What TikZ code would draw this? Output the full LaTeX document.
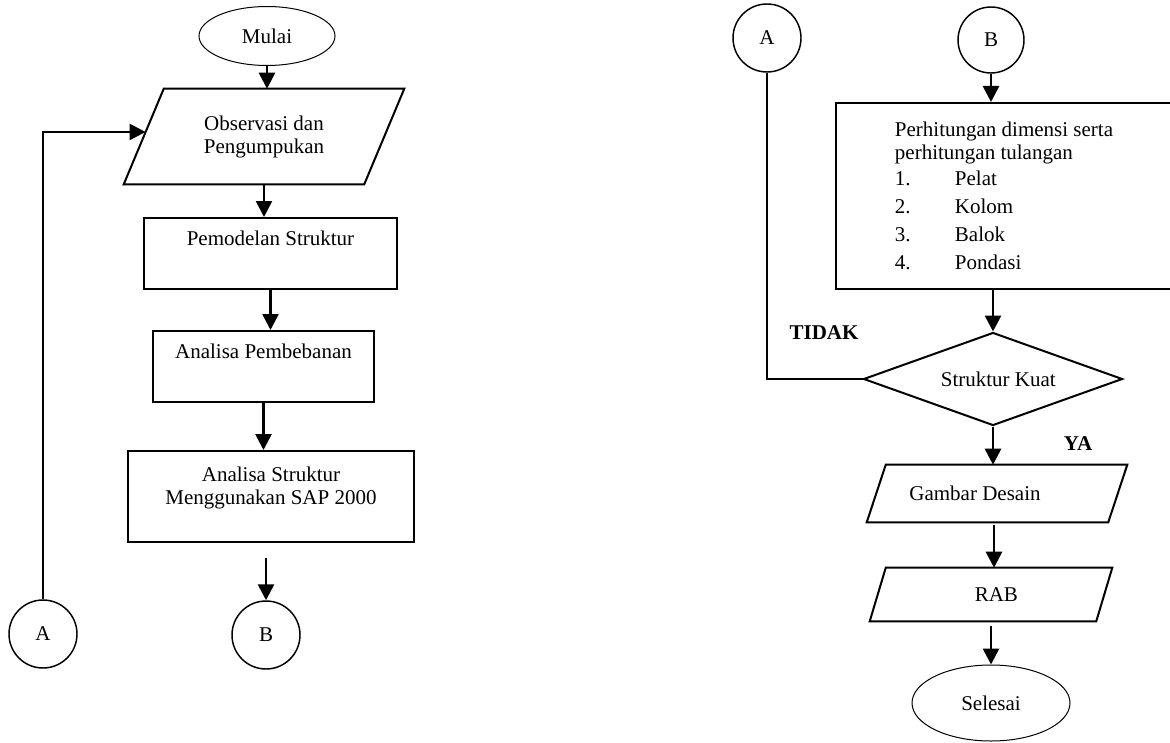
\documentclass[tikz,border=0pt]{standalone}
\usepackage{fontspec}
\setmainfont{Liberation Serif}
\usetikzlibrary{shapes.geometric,arrows.meta,calc}
\begin{document}
\begin{tikzpicture}[x=0.75pt,y=-0.75pt,
 every node/.style={font=\fontsize{15.75}{17.25}\selectfont, inner sep=0pt},
 box/.style={draw, line width=1.5pt, rectangle, align=center},
 pbox/.style={rectangle, align=center},
 term/.style={draw, ellipse, line width=0.75pt},
 conn/.style={draw, circle, line width=1.1pt, minimum size=51pt},
 dec/.style={draw, diamond, aspect=2.8, line width=1.5pt},
 arr/.style={line width=2pt, -{Triangle[length=12pt,width=12pt]}},
 link/.style={line width=1.5pt},
 para/.style={line width=1.5pt, line join=miter},
 lbl/.style={font=\fontsize{15.75}{17.25}\selectfont\bfseries}
]
\useasboundingbox (0,0) rectangle (1170,742);
\clip (0,0) rectangle (1170,742);

% ---------- left column ----------
\node[term, minimum width=102pt, minimum height=44.25pt] (mulai) at (267,36) {Mulai};
\node[pbox, minimum width=210pt, minimum height=71.25pt] (obs) at (264,136.5) {Observasi dan\\Pengumpukan};
\draw[para] ($(obs.north west)+(40,0)$) -- (obs.north east) -- ($(obs.south east)+(-40,0)$) -- (obs.south west) -- cycle;
\coordinate (obsL) at ($($(obs.north west)+(40,0)$)!0.4526!(obs.south west)$);
\node[box, minimum width=189.75pt, minimum height=53.25pt] (pem) at (270.5,253.5) {Pemodelan Struktur\\\strut};
\node[box, minimum width=165.75pt, minimum height=53.25pt] (ana) at (263.5,366.5) {Analisa Pembebanan\\\strut};
\node[box, minimum width=214.5pt, minimum height=68.25pt] (sap) at (271,496.5) {Analisa Struktur\\Menggunakan SAP 2000\\[-6pt]\strut};
\node[conn] (B1) at (266,635) {B};
\node[conn] (A1) at (43,634) {A};

\draw[arr] (mulai.south) -- (mulai.south |- obs.north);
\draw[arr] (obs.south) -- (obs.south |- pem.north);
\draw[arr] (pem.south) -- (pem.south |- ana.north);
\draw[arr] (ana.south) -- (ana.south |- sap.north);
\coordinate (sapout) at ($(B1.north)+(0,-42)$);
\draw[arr] (sapout) -- (B1.north);
\draw[arr, line width=1.5pt] (A1.north) |- (obsL);

% ---------- right column ----------
\node[conn] (A2) at (767,38) {A};
\node[conn, minimum size=49.5pt] (B2) at (991,40) {B};
\node[box, align=left, minimum width=252pt, minimum height=139.5pt] (per) at (1004,196)
 {Perhitungan dimensi serta\\perhitungan tulangan\\[2.25pt]
  \makebox[45pt][l]{1.}Pelat\\[3.75pt]
  \makebox[45pt][l]{2.}Kolom\\[3.75pt]
  \makebox[45pt][l]{3.}Balok\\[3.75pt]
  \makebox[45pt][l]{4.}Pondasi};
\node[dec, minimum width=194.25pt, minimum height=69.75pt] (kuat) at (993,379) {\hspace*{8pt}Struktur Kuat};
\node[pbox, minimum width=195pt, minimum height=42.75pt] (gam) at (997,493.5) {Gambar Desain\hspace*{33pt}};
\draw[para] ($(gam.north west)+(19,0)$) -- (gam.north east) -- ($(gam.south east)+(-19,0)$) -- (gam.south west) -- cycle;
\node[pbox, minimum width=181.5pt, minimum height=39.75pt] (rab) at (991,594.5) {\raisebox{-5pt}{\hspace*{8pt}RAB}};
\draw[para] ($(rab.north west)+(16,0)$) -- (rab.north east) -- ($(rab.south east)+(-16,0)$) -- (rab.south west) -- cycle;
\node[term, minimum width=118.5pt, minimum height=57pt] (sel) at (991,703) {Selesai};
\node[lbl] (tidak) at (824,333) {TIDAK};
\node[lbl] (ya) at (1078,444) {YA};

\draw[arr] (B2.south) -- (B2.south |- per.north);
\draw[arr] (kuat.north |- per.south) -- (kuat.north);
\draw[link] (A2.south) |- (kuat.west);
\draw[arr] (kuat.south) -- (kuat.south |- gam.north);
\coordinate (gamout) at ($(gam.south)+(-3,3)$);
\draw[arr] (gamout) -- (gamout |- rab.north);
\coordinate (rabout) at ($(rab.south)+(0,5)$);
\draw[arr] (rabout) -- (rabout |- sel.north);
\end{tikzpicture}
\end{document}
